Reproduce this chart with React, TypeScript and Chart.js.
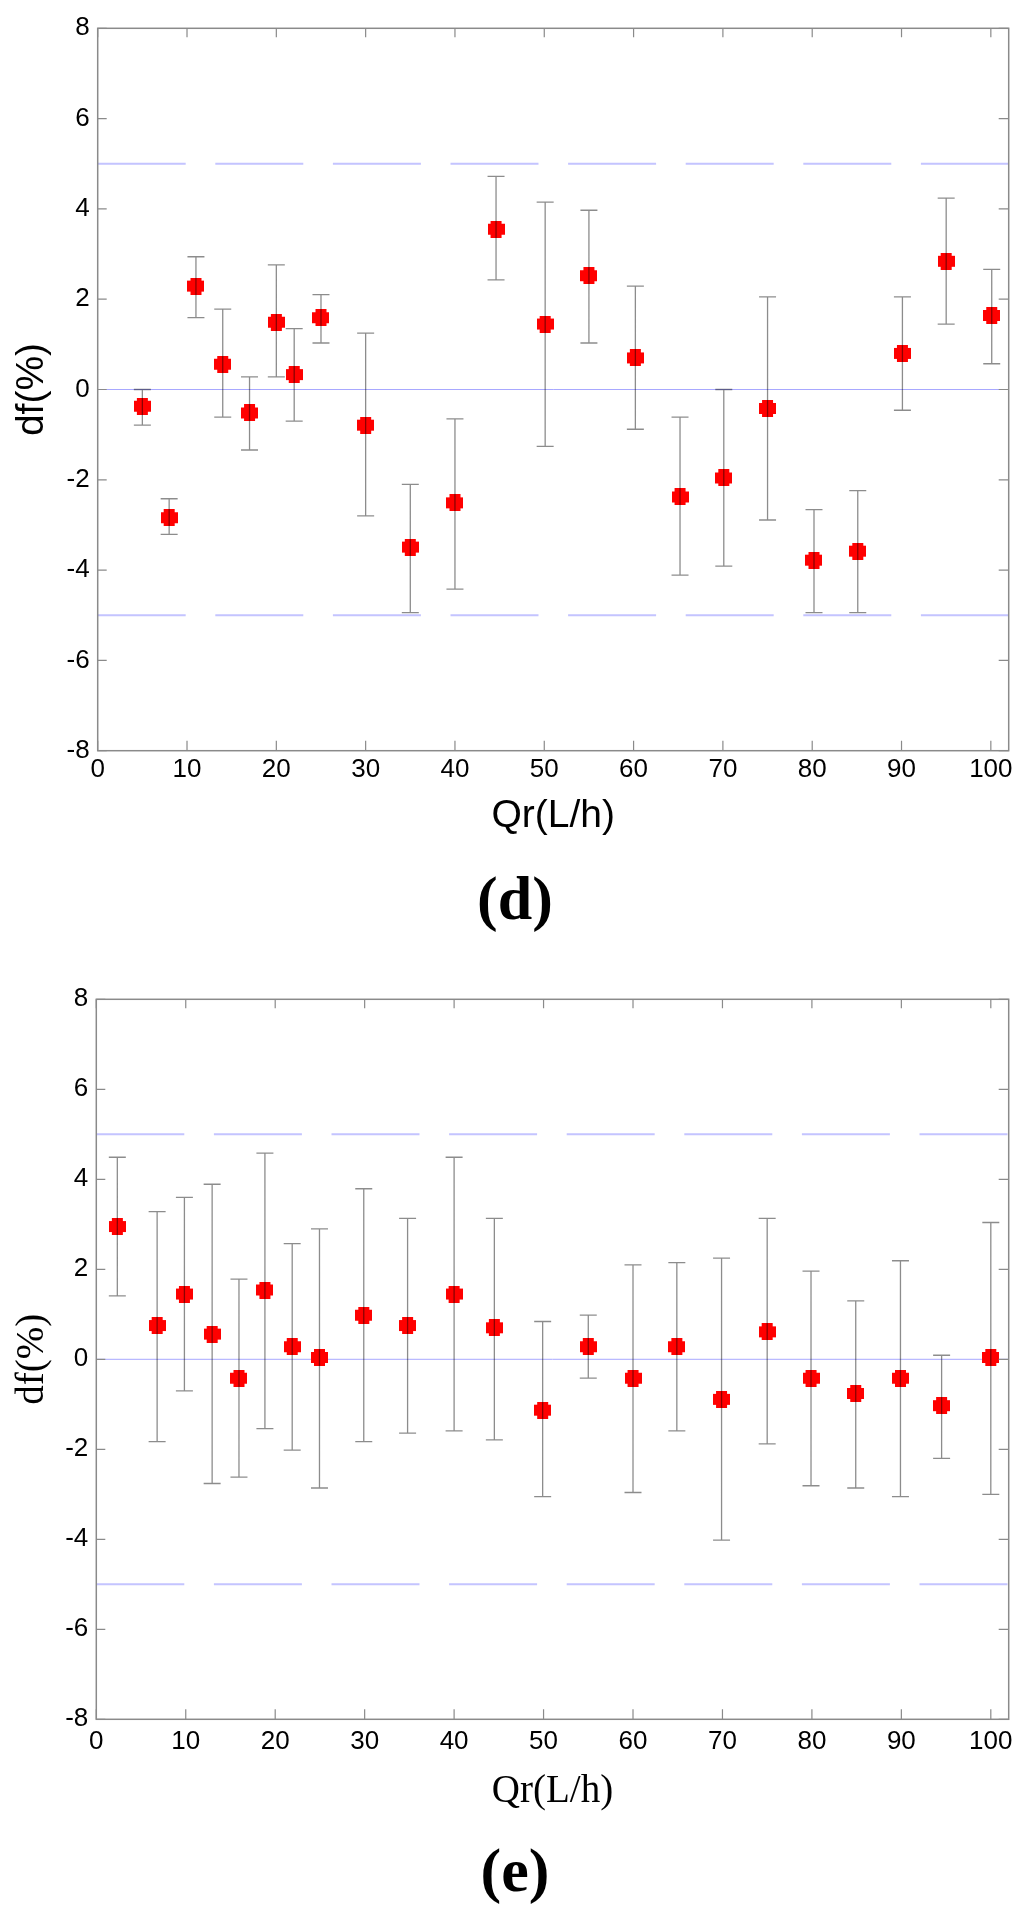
import { useEffect, useRef } from 'react';
import { Chart, registerables } from 'chart.js';

Chart.register(...registerables);

// ---- panel (d) ----
const dQr = [5, 8, 11, 14, 17, 20, 22, 25, 30, 35, 40, 44.6, 50.1, 55, 60.2, 65.2, 70.1, 75, 80.2, 85.1, 90.1, 95, 100.1];
const dDf = [-0.37, -2.84, 2.29, 0.56, -0.52, 1.49, 0.33, 1.59, -0.79, -3.49, -2.51, 3.55, 1.45, 2.52, 0.7, -2.38, -1.96, -0.42, -3.78, -3.58, 0.8, 2.84, 1.64];
const dHigh = [0.0, -2.42, 2.94, 1.78, 0.28, 2.76, 1.35, 2.1, 1.25, -2.1, -0.65, 4.72, 4.15, 3.97, 2.29, -0.61, 0.0, 2.05, -2.66, -2.24, 2.05, 4.24, 2.66];
const dLow = [-0.79, -3.21, 1.59, -0.61, -1.34, 0.28, -0.7, 1.03, -2.8, -4.94, -4.42, 2.43, -1.26, 1.03, -0.88, -4.11, -3.91, -2.89, -4.94, -4.94, -0.46, 1.45, 0.57];

// ---- panel (e) ----
const eQr = [2.35, 6.8, 9.85, 12.95, 15.95, 18.85, 21.9, 24.95, 29.9, 34.8, 40, 44.5, 49.9, 55, 60, 64.9, 69.9, 75, 79.9, 84.9, 89.9, 94.5, 100];
const eDf = [2.95, 0.75, 1.45, 0.56, -0.42, 1.54, 0.28, 0.04, 0.98, 0.75, 1.45, 0.7, -1.13, 0.28, -0.42, 0.28, -0.89, 0.61, -0.42, -0.76, -0.42, -1.03, 0.04];
const eHigh = [4.49, 3.28, 3.6, 3.89, 1.78, 4.58, 2.57, 2.9, 3.79, 3.13, 4.49, 3.13, 0.84, 0.98, 2.1, 2.15, 2.25, 3.13, 1.96, 1.3, 2.19, 0.09, 3.04];
const eLow = [1.41, -1.83, -0.7, -2.76, -2.62, -1.54, -2.02, -2.86, -1.83, -1.64, -1.59, -1.79, -3.05, -0.42, -2.96, -1.59, -4.02, -1.88, -2.81, -2.86, -3.05, -2.2, -3.0];

// axes
const xTicks = [0, 10, 20, 30, 40, 50, 60, 70, 80, 90, 100];
const yTicks = [-8, -6, -4, -2, 0, 2, 4, 6, 8];
const xRange = [0, 102];
const yRange = [-8, 8];
const limitBand = [5, -5];

const SANS = 'Arial, "Liberation Sans", sans-serif';
const SERIF = '"Times New Roman", "Liberation Serif", serif';

function plusMarker() {
	const c = document.createElement('canvas');
	c.width = 17;
	c.height = 17;
	const g = c.getContext('2d')!;
	g.fillStyle = '#ff0000';
	g.fillRect(3, 0, 11, 17);
	g.fillRect(0, 3, 17, 11);
	return c;
}

const makeErrorBars = (xs: number[], highs: number[], lows: number[]) => ({
	id: 'errorBars',
	afterDatasetsDraw(chart: any) {
		const { ctx, scales: { x, y } } = chart;
		ctx.save();
		ctx.strokeStyle = 'rgba(0,0,0,0.45)';
		ctx.lineWidth = 1.3;
		ctx.beginPath();
		xs.forEach((v, i) => {
			const px = x.getPixelForValue(v);
			const hi = y.getPixelForValue(highs[i]);
			const lo = y.getPixelForValue(lows[i]);
			ctx.moveTo(px, hi);
			ctx.lineTo(px, lo);
			ctx.moveTo(px - 8.5, hi);
			ctx.lineTo(px + 8.5, hi);
			ctx.moveTo(px - 8.5, lo);
			ctx.lineTo(px + 8.5, lo);
		});
		ctx.stroke();
		ctx.restore();
	}
});

const framePlugin = {
	id: 'frame',
	afterDraw(chart: any) {
		const { ctx, chartArea: a, scales: { x, y } } = chart;
		ctx.save();
		ctx.strokeStyle = '#8a8a8a';
		ctx.lineWidth = 1.5;
		ctx.strokeRect(a.left, a.top, a.right - a.left, a.bottom - a.top);
		ctx.lineWidth = 1.2;
		ctx.beginPath();
		xTicks.forEach(v => {
			const px = x.getPixelForValue(v);
			ctx.moveTo(px, a.bottom);
			ctx.lineTo(px, a.bottom - 10);
			ctx.moveTo(px, a.top);
			ctx.lineTo(px, a.top + 9);
		});
		yTicks.forEach(v => {
			const py = y.getPixelForValue(v);
			ctx.moveTo(a.left, py);
			ctx.lineTo(a.left + 9, py);
			ctx.moveTo(a.right, py);
			ctx.lineTo(a.right - 10, py);
		});
		ctx.stroke();
		ctx.restore();
	}
};

type PanelProps = {
	xs: number[],
	ys: number[],
	highs: number[],
	lows: number[],
	top: number,
	height: number,
	plotTop: number,
	plotBottom: number,
	plotLeft: number,
	plotRight: number,
	titleFamily: string,
	xTickPad: number,
	yTitleCenter: number,
	xTitleCenter: number
};

const Panel = (p: PanelProps) => {
	const ref = useRef<HTMLCanvasElement | null>(null);

	useEffect(() => {
		if (!ref.current) return;
		const lineFromBand = (level: number) => [{ x: xRange[0], y: level }, { x: xRange[1], y: level }];
		const titleFont = { family: p.titleFamily, size: 39, lineHeight: 1.2 };
		const xAxisHeight = p.xTitleCenter + 23.4 + 4 - p.plotBottom;

		const chart = new Chart(ref.current, {
			type: 'scatter',
			data: {
				datasets: [
					{
						label: 'df',
						data: p.xs.map((v, i) => ({ x: v, y: p.ys[i] })),
						pointStyle: plusMarker(),
						pointRadius: 8.5,
						showLine: false,
						order: 0
					},
					...limitBand.map(level => ({
						label: 'limit ' + level,
						data: lineFromBand(level),
						showLine: true,
						borderColor: '#c4c4ff',
						borderWidth: 2,
						borderDash: [88, 29.6],
						pointRadius: 0,
						order: 2
					})),
					{
						label: 'zero',
						data: lineFromBand(0),
						showLine: true,
						borderColor: '#a8a8ff',
						borderWidth: 1,
						pointRadius: 0,
						order: 1
					}
				]
			} as any,
			options: {
				animation: false,
				responsive: false,
				events: [],
				layout: {
					padding: {
						left: 0,
						top: p.plotTop,
						right: 1024 - p.plotRight,
						bottom: p.height - p.plotBottom - xAxisHeight
					}
				},
				plugins: {
					legend: { display: false },
					tooltip: { enabled: false }
				},
				scales: {
					x: {
						type: 'linear',
						min: xRange[0],
						max: xRange[1],
						grid: { display: false, drawTicks: false },
						border: { display: false },
						afterBuildTicks: (s: any) => { s.ticks = xTicks.map(value => ({ value })); },
						afterFit: (s: any) => { s.height = xAxisHeight; },
						ticks: {
							color: '#000',
							padding: p.xTickPad,
							maxRotation: 0,
							autoSkip: false,
							font: { family: SANS, size: 26, lineHeight: 1.2 }
						},
						title: {
							display: true,
							text: 'Qr(L/h)',
							color: '#000',
							font: titleFont,
							padding: { top: 0, bottom: 4 }
						}
					},
					y: {
						type: 'linear',
						min: yRange[0],
						max: yRange[1],
						grid: { display: false, drawTicks: false },
						border: { display: false },
						afterBuildTicks: (s: any) => { s.ticks = yTicks.map(value => ({ value })); },
						afterFit: (s: any) => { s.width = p.plotLeft; },
						ticks: {
							color: '#000',
							padding: 8,
							autoSkip: false,
							font: { family: SANS, size: 26, lineHeight: 1.2 }
						},
						title: {
							display: true,
							text: 'df(%)',
							color: '#000',
							font: titleFont,
							padding: { top: p.yTitleCenter - 23.4, bottom: 0 }
						}
					}
				}
			} as any,
			plugins: [makeErrorBars(p.xs, p.highs, p.lows), framePlugin]
		});
		return () => {
			chart.destroy();
		};
	}, []);

	return (
		<canvas
			ref={ref}
			width={1024}
			height={p.height}
			style={{ position: 'absolute', left: 0, top: p.top, width: 1024, height: p.height }}
		/>
	);
};

const panelLabel = (text: string, top: number) => (
	<div
		style={{
			position: 'absolute',
			left: 3,
			top: top,
			width: 1024,
			textAlign: 'center',
			fontFamily: SERIF,
			fontWeight: 'bold',
			fontSize: 62,
			lineHeight: '62px',
			color: '#000'
		}}
	>
		{text}
	</div>
);

export default function App() {
	return (
		<div style={{ position: 'absolute', left: 0, top: 0, width: 1024, height: 1913, background: '#fff', overflow: 'hidden' }}>
			<Panel
				xs={dQr} ys={dDf} highs={dHigh} lows={dLow}
				top={0} height={880}
				plotTop={28.3} plotBottom={750.7} plotLeft={97.7} plotRight={1008.7}
				titleFamily={SANS} xTickPad={4} yTitleCenter={32} xTitleCenter={816.7}
			/>
			{panelLabel('(d)', 866.5)}
			<Panel
				xs={eQr} ys={eDf} highs={eHigh} lows={eLow}
				top={880} height={1000}
				plotTop={999.3 - 880} plotBottom={1719.3 - 880} plotLeft={96.3} plotRight={1008.7}
				titleFamily={SERIF} xTickPad={7} yTitleCenter={33} xTitleCenter={1791.5 - 880}
			/>
			{panelLabel('(e)', 1838.5)}
		</div>
	);
}
